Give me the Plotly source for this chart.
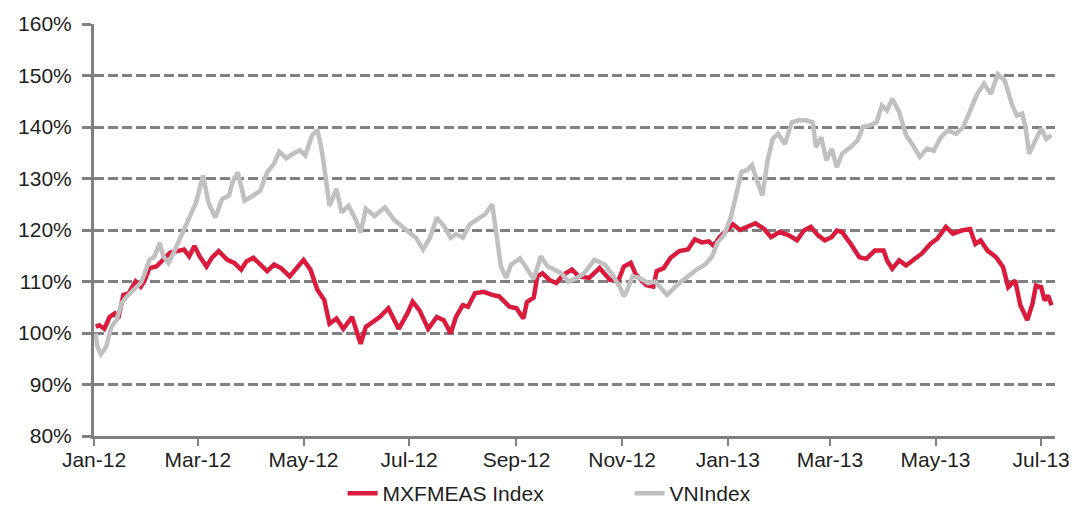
import plotly.graph_objects as go

# ---- data ----
mxf_dates = [
    "2012-01-02", "2012-01-04", "2012-01-07", "2012-01-10", "2012-01-13", "2012-01-15",
    "2012-01-18", "2012-01-21", "2012-01-25", "2012-01-28", "2012-01-30", "2012-02-02",
    "2012-02-06", "2012-02-09", "2012-02-14", "2012-02-18", "2012-02-22", "2012-02-25",
    "2012-02-28", "2012-03-02", "2012-03-06", "2012-03-09", "2012-03-13", "2012-03-18",
    "2012-03-22", "2012-03-26", "2012-03-29", "2012-04-02", "2012-04-06", "2012-04-10",
    "2012-04-14", "2012-04-18", "2012-04-23", "2012-04-27", "2012-05-01", "2012-05-05",
    "2012-05-09", "2012-05-13", "2012-05-16", "2012-05-20", "2012-05-24", "2012-05-29",
    "2012-06-01", "2012-06-03", "2012-06-06", "2012-06-10", "2012-06-14", "2012-06-19",
    "2012-06-25", "2012-06-30", "2012-07-03", "2012-07-07", "2012-07-12", "2012-07-17",
    "2012-07-21", "2012-07-25", "2012-07-28", "2012-08-01", "2012-08-04", "2012-08-08",
    "2012-08-13", "2012-08-18", "2012-08-22", "2012-08-28", "2012-09-01", "2012-09-05",
    "2012-09-07", "2012-09-11", "2012-09-13", "2012-09-16", "2012-09-20", "2012-09-24",
    "2012-09-28", "2012-10-03", "2012-10-07", "2012-10-13", "2012-10-19", "2012-10-25",
    "2012-10-30", "2012-11-02", "2012-11-06", "2012-11-09", "2012-11-15", "2012-11-19",
    "2012-11-21", "2012-11-25", "2012-11-29", "2012-12-04", "2012-12-09", "2012-12-13",
    "2012-12-17", "2012-12-21", "2012-12-24", "2012-12-27", "2013-01-01", "2013-01-04",
    "2013-01-08", "2013-01-12", "2013-01-17", "2013-01-22", "2013-01-26", "2013-01-31",
    "2013-02-05", "2013-02-10", "2013-02-14", "2013-02-18", "2013-02-22", "2013-02-26",
    "2013-03-02", "2013-03-05", "2013-03-08", "2013-03-13", "2013-03-18", "2013-03-22",
    "2013-03-27", "2013-04-01", "2013-04-03", "2013-04-06", "2013-04-10", "2013-04-14",
    "2013-04-19", "2013-04-23", "2013-04-28", "2013-05-02", "2013-05-07", "2013-05-11",
    "2013-05-16", "2013-05-21", "2013-05-24", "2013-05-27", "2013-05-31", "2013-06-05",
    "2013-06-09", "2013-06-12", "2013-06-16", "2013-06-19", "2013-06-23", "2013-06-26",
    "2013-06-28", "2013-07-01", "2013-07-03", "2013-07-05", "2013-07-07",
]
mxf_values = [
    101.2, 101.5, 100.8, 103.1, 103.8, 102.8,
    107.4, 107.7, 110.0, 109.0, 110.0, 112.6,
    112.9, 113.9, 115.6, 115.9, 116.2, 114.9,
    116.9, 114.9, 112.9, 114.6, 115.9, 114.2,
    113.6, 112.3, 113.9, 114.6, 113.3, 112.0,
    113.3, 112.6, 111.0, 112.6, 114.2, 112.3,
    108.4, 106.4, 101.8, 102.8, 100.8, 103.1,
    99.9, 97.9, 101.2, 102.2, 103.1, 104.8,
    100.8, 103.8, 106.1, 104.4, 100.8, 103.1,
    102.5, 99.9, 103.1, 105.4, 105.1, 107.7,
    108.0, 107.4, 107.1, 105.1, 104.8, 102.8,
    106.0, 106.9, 111.0, 111.6, 110.3, 109.7,
    111.3, 112.3, 111.0, 110.7, 112.6, 110.3,
    110.3, 112.9, 113.6, 111.3, 109.3, 109.0,
    112.0, 112.6, 114.6, 115.9, 116.2, 118.2,
    117.6, 117.8, 116.9, 118.5, 120.1, 121.1,
    120.0, 120.6, 121.3, 120.2, 118.6, 119.6,
    119.0, 118.0, 119.9, 120.6, 119.0, 118.0,
    118.6, 119.9, 119.6, 117.3, 114.7, 114.4,
    116.0, 116.0, 114.1, 112.5, 114.1, 113.1,
    114.4, 115.4, 117.3, 118.3, 120.6, 119.3,
    119.9, 120.2, 117.3, 118.0, 116.0, 114.7,
    112.8, 108.9, 110.2, 105.4, 102.5, 105.7,
    109.2, 108.9, 106.3, 107.3, 105.4,
]

vn_dates = [
    "2012-01-02", "2012-01-03", "2012-01-05", "2012-01-08", "2012-01-11", "2012-01-14",
    "2012-01-17", "2012-01-20", "2012-01-24", "2012-01-28", "2012-01-30", "2012-02-02",
    "2012-02-05", "2012-02-08", "2012-02-10", "2012-02-13", "2012-02-16", "2012-02-19",
    "2012-02-22", "2012-02-25", "2012-02-29", "2012-03-04", "2012-03-07", "2012-03-11",
    "2012-03-15", "2012-03-19", "2012-03-21", "2012-03-24", "2012-03-28", "2012-04-02",
    "2012-04-06", "2012-04-10", "2012-04-14", "2012-04-17", "2012-04-21", "2012-04-25",
    "2012-04-29", "2012-05-02", "2012-05-06", "2012-05-09", "2012-05-11", "2012-05-13",
    "2012-05-16", "2012-05-20", "2012-05-23", "2012-05-27", "2012-05-31", "2012-06-03",
    "2012-06-06", "2012-06-11", "2012-06-17", "2012-06-22", "2012-06-27", "2012-07-01",
    "2012-07-05", "2012-07-09", "2012-07-13", "2012-07-17", "2012-07-21", "2012-07-25",
    "2012-07-28", "2012-08-01", "2012-08-05", "2012-08-10", "2012-08-14", "2012-08-18",
    "2012-08-21", "2012-08-23", "2012-08-26", "2012-08-29", "2012-09-03", "2012-09-07",
    "2012-09-11", "2012-09-15", "2012-09-19", "2012-09-23", "2012-09-27", "2012-10-01",
    "2012-10-06", "2012-10-10", "2012-10-16", "2012-10-22", "2012-10-27", "2012-10-31",
    "2012-11-02", "2012-11-04", "2012-11-07", "2012-11-11", "2012-11-16", "2012-11-20",
    "2012-11-24", "2012-11-27", "2012-11-30", "2012-12-04", "2012-12-09", "2012-12-14",
    "2012-12-19", "2012-12-23", "2012-12-26", "2012-12-30", "2013-01-03", "2013-01-06",
    "2013-01-09", "2013-01-12", "2013-01-15", "2013-01-18", "2013-01-21", "2013-01-24",
    "2013-01-27", "2013-01-30", "2013-02-03", "2013-02-07", "2013-02-11", "2013-02-15",
    "2013-02-19", "2013-02-21", "2013-02-24", "2013-02-27", "2013-03-02", "2013-03-05",
    "2013-03-08", "2013-03-13", "2013-03-17", "2013-03-20", "2013-03-24", "2013-03-28",
    "2013-03-31", "2013-04-03", "2013-04-06", "2013-04-10", "2013-04-14", "2013-04-18",
    "2013-04-22", "2013-04-26", "2013-04-30", "2013-05-04", "2013-05-08", "2013-05-13",
    "2013-05-17", "2013-05-21", "2013-05-25", "2013-05-29", "2013-06-02", "2013-06-06",
    "2013-06-10", "2013-06-14", "2013-06-17", "2013-06-20", "2013-06-22", "2013-06-24",
    "2013-06-27", "2013-07-01", "2013-07-04", "2013-07-07",
]
vn_values = [
    99.9, 97.3, 95.9, 97.3, 101.2, 102.5,
    105.8, 107.1, 108.4, 109.7, 111.3, 114.2,
    114.9, 117.5, 114.9, 113.6, 115.6, 117.8,
    119.8, 122.1, 125.4, 130.6, 125.4, 122.4,
    126.0, 126.7, 129.3, 131.2, 125.7, 126.7,
    127.6, 131.2, 132.9, 135.2, 133.9, 134.8,
    135.5, 134.5, 138.4, 139.4, 136.5, 132.2,
    124.7, 128.0, 123.4, 124.7, 122.1, 119.5,
    124.1, 122.7, 124.4, 122.1, 120.5, 119.5,
    118.5, 116.2, 118.5, 122.4, 120.8, 118.5,
    119.2, 118.5, 121.1, 122.1, 123.1, 125.0,
    117.5, 112.9, 110.7, 113.3, 114.5, 112.3,
    110.5, 114.9, 112.9, 112.3, 111.6, 110.0,
    110.7, 111.6, 114.2, 113.3, 111.0, 108.7,
    107.1, 108.4, 111.0, 110.7, 109.7, 110.0,
    108.4, 107.4, 108.4, 109.7, 111.0, 112.3,
    113.3, 114.9, 117.5, 119.1, 122.7, 126.7,
    131.3, 131.6, 132.6, 129.5, 126.7, 133.5,
    137.7, 138.7, 136.7, 140.9, 141.3, 141.3,
    140.9, 136.1, 138.0, 133.5, 135.8, 132.2,
    134.8, 136.1, 137.4, 140.0, 140.3, 140.9,
    144.2, 143.2, 145.5, 142.9, 138.4, 136.4,
    134.2, 135.8, 135.4, 138.0, 139.3, 138.7,
    140.0, 143.2, 146.4, 148.4, 146.4, 150.3,
    149.0, 144.5, 142.2, 142.6, 140.0, 134.8,
    137.1, 139.7, 137.7, 138.4,
]

series_names = ["MXFMEAS Index", "VNIndex"]
y_tick_vals = [80, 90, 100, 110, 120, 130, 140, 150, 160]
y_tick_text = ["80%", "90%", "100%", "110%", "120%", "130%", "140%", "150%", "160%"]

RED = "#D91B3C"
GREY = "#C0C0C0"
AXIS = "#808080"
TEXT = "#1e1e1e"
FONT = "Liberation Sans, Arial, sans-serif"

fig = go.Figure()
fig.add_trace(go.Scatter(x=mxf_dates, y=mxf_values, mode="lines", name=series_names[0],
                         line=dict(color=RED, width=4.5)))
fig.add_trace(go.Scatter(x=vn_dates, y=vn_values, mode="lines", name=series_names[1],
                         line=dict(color=GREY, width=4.5)))

# the page body adds an 8px offset, so the figure is sized to the visible window
fig.update_layout(
    width=1069, height=506,
    margin=dict(l=86, r=22, t=16, b=78, autoexpand=False),
    paper_bgcolor="white", plot_bgcolor="white",
    font=dict(family=FONT, size=21, color=TEXT),
    showlegend=True,
    legend=dict(orientation="h", xref="container", x=0.313, xanchor="left",
                yref="container", y=-0.014, yanchor="bottom",
                font=dict(size=21, color=TEXT), entrywidth=242, entrywidthmode="pixels",
                bgcolor="rgba(0,0,0,0)"),
    xaxis=dict(
        type="date", range=["2012-01-01", "2013-07-09"],
        tick0="2012-01-01", dtick="M2", tickformat="%b-%y",
        showgrid=False, zeroline=False,
        showline=True, linecolor=AXIS, linewidth=3,
        ticks="outside", ticklen=7, tickwidth=2, tickcolor=AXIS,
        ticklabelstandoff=-4,
        tickfont=dict(size=21, color=TEXT),
    ),
    yaxis=dict(
        range=[80, 160], tickvals=y_tick_vals, ticktext=y_tick_text,
        showgrid=True, gridcolor=AXIS, gridwidth=2.5, griddash="10px,4px",
        zeroline=False,
        showline=True, linecolor=AXIS, linewidth=3,
        ticks="outside", ticklen=9, tickwidth=2.5, tickcolor=AXIS,
        ticklabelstandoff=6,
        tickfont=dict(size=21, color=TEXT),
    ),
)

fig.write_html("out.html")
